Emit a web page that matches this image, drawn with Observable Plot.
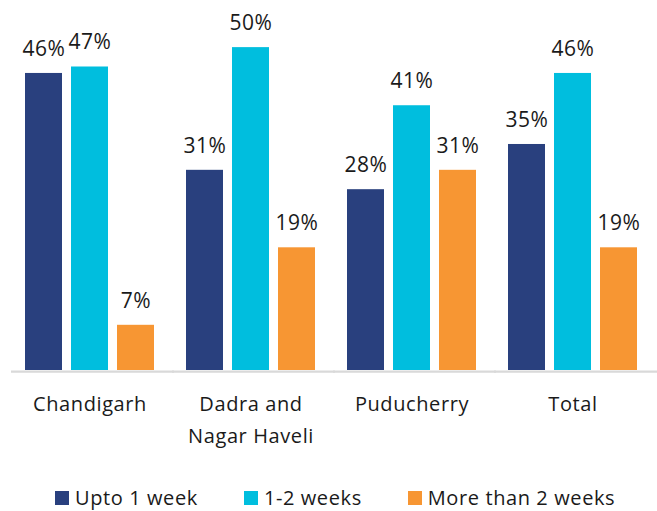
<!DOCTYPE html>
<html><head><meta charset="utf-8">
<script src="https://cdn.jsdelivr.net/npm/d3@7"></script>
<script src="https://cdn.jsdelivr.net/npm/@observablehq/plot@0.6"></script>
<style>
body{margin:0;background:#fff;font-family:"Open Sans",sans-serif;}
svg text{letter-spacing:0.6px;}
#legend{height:51px;box-sizing:border-box;padding-top:24px;padding-left:55px;display:flex;gap:46px;font-size:20px;line-height:28px;letter-spacing:0.6px;color:#1a1a1a;white-space:nowrap;}
#legend .sw{display:inline-block;width:14px;height:14px;margin-right:6px;vertical-align:baseline;}
</style></head><body><div id="chart"></div><div id="legend"></div>
<script>
const categories = ["Chandigarh", "Dadra and\nNagar Haveli", "Puducherry", "Total"];
const series = ["Upto 1 week", "1-2 weeks", "More than 2 weeks"];
const upto1Week = [46, 31, 28, 35];
const oneToTwoWeeks = [47, 50, 41, 46];
const moreThan2Weeks = [7, 19, 31, 19];
const colors = ["#29407E", "#00BEDE", "#F79633"];

const seriesValues = [upto1Week, oneToTwoWeeks, moreThan2Weeks];
const data = [];
categories.forEach((c, i) => {
  series.forEach((s, j) => data.push({cat: c, series: s, value: seriesValues[j][i]}));
});

const chart = Plot.plot({
  width: 657, height: 460,
  marginTop: 20, marginBottom: 90, marginLeft: 23, marginRight: 17,
  style: {fontFamily: '"Open Sans", sans-serif', background: "white", overflow: "visible"},
  fx: {domain: categories, paddingInner: 0.185, paddingOuter: 0, axis: null, label: null},
  x: {domain: series, paddingInner: 0.2, paddingOuter: 0, axis: null, label: null},
  y: {domain: [0, 54.2], axis: null, label: null},
  color: {domain: series, range: colors},
  marks: [
    Plot.ruleY([0], {stroke: "#d9d9d9", strokeWidth: 2.3, dy: 1.2, insetLeft: -13, insetRight: -19}),
    Plot.barY(data, {fx: "cat", x: "series", y: "value", fill: "series"}),
    Plot.text(data, {fx: "cat", x: "series", y: "value", text: d => d.value + "%", lineAnchor: "top", dy: -32.5, fontSize: 21, fill: "#1a1a1a"}),
    Plot.text(categories, {fx: d => d, text: d => d, frameAnchor: "bottom", lineAnchor: "top", dy: 18.5, fontSize: 20, lineHeight: 1.58, fill: "#1a1a1a"})
  ]
});
document.getElementById("chart").appendChild(chart);

const legend = document.getElementById("legend");
series.forEach((s, i) => {
  const item = document.createElement("span");
  const sw = document.createElement("span");
  sw.className = "sw";
  sw.style.background = colors[i];
  item.appendChild(sw);
  item.appendChild(document.createTextNode(s));
  legend.appendChild(item);
});
</script>
</body></html>
